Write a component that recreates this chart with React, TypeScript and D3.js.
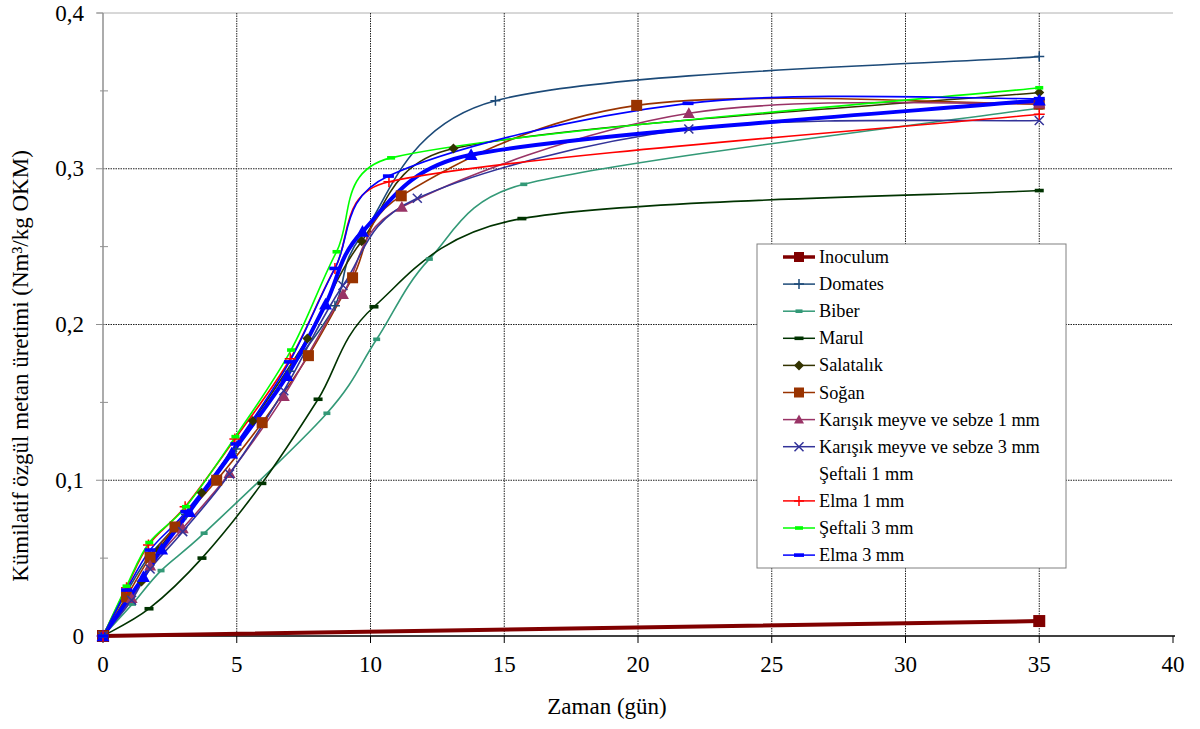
import React from 'react';
import * as d3 from 'd3';

// ---------- data ----------
const xTicks = [0, 5, 10, 15, 20, 25, 30, 35, 40];
const yTicks = [0, 0.1, 0.2, 0.3, 0.4];
const yTickLabels = ['0', '0,1', '0,2', '0,3', '0,4'];
const yMinorTicks = [0.05, 0.15, 0.25, 0.35];

const inoculum: number[][] = [[0, 0], [35, 0.0096]];
const domates: number[][] = [[0, 0], [0.88, 0.028], [1.76, 0.052], [3.1, 0.078], [4.97, 0.12], [6.97, 0.17], [8.67, 0.212], [9.67, 0.257], [14.67, 0.3437], [35, 0.372]];
const biber: number[][] = [[0, 0], [1.1, 0.0205], [2.17, 0.042], [3.78, 0.066], [8.37, 0.143], [10.23, 0.1905], [12.2, 0.242], [15.73, 0.29], [35, 0.339]];
const marul: number[][] = [[0, 0], [1.72, 0.0175], [3.7, 0.05], [5.94, 0.098], [8.04, 0.152], [10.13, 0.2114], [15.66, 0.268], [35, 0.286]];
const salatalik: number[][] = [[0, 0], [1.44, 0.035], [2.07, 0.055], [3.69, 0.092], [5.6, 0.138], [7.64, 0.191], [9.67, 0.2535], [13.1, 0.313], [35, 0.349]];
const sogan: number[][] = [[0, 0], [0.88, 0.0252], [1.76, 0.0505], [2.69, 0.07], [4.25, 0.1], [5.95, 0.137], [7.68, 0.18], [9.33, 0.23], [11.15, 0.2826], [19.95, 0.3407], [35, 0.3415]];
const karisik1: number[][] = [[0, 0], [1.07, 0.0242], [1.76, 0.0452], [2.98, 0.069], [4.73, 0.1045], [6.76, 0.154], [8.97, 0.2195], [11.17, 0.2754], [21.9, 0.3356], [35, 0.342]];
const karisik3: number[][] = [[0, 0], [1.07, 0.023], [1.76, 0.043], [2.98, 0.067], [4.73, 0.104], [6.76, 0.1575], [8.97, 0.225], [11.75, 0.281], [21.9, 0.3255], [35, 0.331]];
const seftali1: number[][] = [[0, 0], [1.51, 0.038], [2.19, 0.0557], [3.23, 0.0798], [4.81, 0.1173], [6.88, 0.167], [8.32, 0.213], [9.7, 0.2597], [13.76, 0.309], [35, 0.344]];
const elma1: number[][] = [[0, 0], [0.88, 0.031], [1.7, 0.0584], [3.07, 0.083], [4.93, 0.1265], [7.0, 0.178], [8.67, 0.236], [10.69, 0.2917], [35, 0.335]];
const seftali3: number[][] = [[0, 0], [0.88, 0.032], [1.73, 0.06], [3.1, 0.083], [4.95, 0.128], [7.03, 0.1836], [8.73, 0.2467], [10.77, 0.307], [35, 0.352]];
const elma3: number[][] = [[0, 0], [0.88, 0.0295], [1.76, 0.0552], [3.1, 0.0798], [4.97, 0.1233], [6.97, 0.176], [8.67, 0.236], [10.67, 0.2953], [21.87, 0.342], [35, 0.345]];

type Marker = 'square' | 'plus' | 'dash' | 'diamond' | 'triangle' | 'x' | 'none';
interface Series { name: string; data: number[][]; color: string; width: number; marker: Marker; size: number; legendMarker?: boolean; }

const series: Series[] = [
  { name: 'Inoculum', data: inoculum, color: '#800000', width: 4, marker: 'square', size: 12 },
  { name: 'Domates', data: domates, color: '#1c4a78', width: 1.6, marker: 'plus', size: 10 },
  { name: 'Biber', data: biber, color: '#339977', width: 1.6, marker: 'dash', size: 7 },
  { name: 'Marul', data: marul, color: '#003300', width: 1.6, marker: 'dash', size: 9 },
  { name: 'Salatalık', data: salatalik, color: '#333300', width: 1.6, marker: 'diamond', size: 10 },
  { name: 'Soğan', data: sogan, color: '#993300', width: 1.6, marker: 'square', size: 11 },
  { name: 'Karışık meyve ve sebze 1 mm', data: karisik1, color: '#993366', width: 1.6, marker: 'triangle', size: 12 },
  { name: 'Karışık meyve ve sebze 3 mm', data: karisik3, color: '#333399', width: 1.6, marker: 'x', size: 9 },
  { name: 'Şeftali 1 mm', data: seftali1, color: '#0000ff', width: 4, marker: 'triangle', size: 13, legendMarker: false },
  { name: 'Elma 1 mm', data: elma1, color: '#ff0000', width: 1.6, marker: 'plus', size: 11 },
  { name: 'Şeftali 3 mm', data: seftali3, color: '#00ff00', width: 1.6, marker: 'dash', size: 8 },
  { name: 'Elma 3 mm', data: elma3, color: '#0000ff', width: 1.6, marker: 'dash', size: 11 },
];

// ---------- layout ----------
const W = 1200, H = 729;
const x = d3.scaleLinear().domain([0, 40]).range([103, 1173]);
const y = d3.scaleLinear().domain([0, 0.4]).range([636, 13]);
const FONT = 'Liberation Serif, Times New Roman, serif';

// Spreadsheet-style smoothed line: cubic Bezier segments with 1/6 tangents,
// limited to half the segment length (built on d3.path).
function smoothPath(data: number[][]): string {
  const pts = data.map(d => [x(d[0]), y(d[1])]);
  const p = d3.path();
  if (!pts.length) return '';
  p.moveTo(pts[0][0], pts[0][1]);
  const dist = (a: number[], b: number[]) => Math.hypot(b[0] - a[0], b[1] - a[1]);
  for (let i = 0; i < pts.length - 1; i++) {
    const p1 = pts[i], p2 = pts[i + 1];
    const p0 = i > 0 ? pts[i - 1] : p1;
    const p3 = i + 2 < pts.length ? pts[i + 2] : p2;
    const d12 = dist(p1, p2), d02 = dist(p0, p2), d13 = dist(p1, p3);
    const f1 = d02 / 6 < d12 / 2 ? 1 / 6 : d12 / (2 * d02);
    const f2 = d13 / 6 < d12 / 2 ? 1 / 6 : d12 / (2 * d13);
    const c1 = [p1[0] + f1 * (p2[0] - p0[0]), p1[1] + f1 * (p2[1] - p0[1])];
    const c2 = [p2[0] - f2 * (p3[0] - p1[0]), p2[1] - f2 * (p3[1] - p1[1])];
    p.bezierCurveTo(c1[0], c1[1], c2[0], c2[1], p2[0], p2[1]);
  }
  return p.toString();
}

function MarkerShape({ type, cx, cy, size, color }: { type: Marker; cx: number; cy: number; size: number; color: string }) {
  const h = size / 2;
  switch (type) {
    case 'square':
      return <rect x={cx - h} y={cy - h} width={size} height={size} fill={color} />;
    case 'plus':
      return <path d={`M${cx - h},${cy}H${cx + h}M${cx},${cy - h}V${cy + h}`} stroke={color} strokeWidth={1.5} fill="none" />;
    case 'x':
      return <path d={`M${cx - h},${cy - h}L${cx + h},${cy + h}M${cx - h},${cy + h}L${cx + h},${cy - h}`} stroke={color} strokeWidth={1.5} fill="none" />;
    case 'dash':
      return <rect x={cx - h} y={cy - 1.8} width={size} height={3.6} fill={color} />;
    case 'diamond':
      return <path d={`M${cx},${cy - h}L${cx + h},${cy}L${cx},${cy + h}L${cx - h},${cy}Z`} fill={color} />;
    case 'triangle':
      return <path d={`M${cx},${cy - h}L${cx + h},${cy + h * 0.8}L${cx - h},${cy + h * 0.8}Z`} fill={color} />;
    default:
      return null;
  }
}

const textStyle = { fontFamily: FONT };

export default function App() {
  const legendX = 757, legendY = 244, legendW = 309, legendH = 324;
  const rowY0 = 257, rowStep = 27.1;
  return (
    <svg width={W} height={H} style={{ position: 'absolute', left: 0, top: 0, background: '#fff' }}>
      {/* top border line */}
      <line x1={97} x2={1173} y1={y(0.4)} y2={y(0.4)} stroke="#b0b0b0" strokeWidth={1} />
      {/* horizontal gridlines */}
      {yTicks.filter(t => t > 0 && t < 0.4).map(t => (
        <line key={'hg' + t} x1={x(0)} x2={x(40)} y1={y(t)} y2={y(t)} stroke="#222" strokeWidth={1} strokeDasharray="1.5,1" />
      ))}
      {/* vertical gridlines */}
      {xTicks.filter(t => t > 0 && t < 40).map(t => (
        <line key={'vg' + t} x1={x(t)} x2={x(t)} y1={y(0.4)} y2={y(0)} stroke="#222" strokeWidth={1} strokeDasharray="1.5,1" />
      ))}
      {/* y axis */}
      <line x1={x(0)} x2={x(0)} y1={y(0.4)} y2={y(0)} stroke="#909090" strokeWidth={1.5} />
      {yTicks.map(t => (
        <line key={'yt' + t} x1={x(0) - 7} x2={x(0)} y1={y(t)} y2={y(t)} stroke="#909090" strokeWidth={1} />
      ))}
      {yMinorTicks.map(t => (
        <line key={'ym' + t} x1={x(0) - 3} x2={x(0) + 5} y1={y(t)} y2={y(t)} stroke="#909090" strokeWidth={1} />
      ))}
      {yTicks.map((t, i) => (
        <text key={'yl' + t} x={84} y={y(t) + 7.5} textAnchor="end" fontSize={23} fill="#000" style={textStyle}>{yTickLabels[i]}</text>
      ))}
      {/* x axis */}
      <line x1={x(0)} x2={x(40) + 2} y1={y(0)} y2={y(0)} stroke="#000" strokeWidth={1.3} />
      {xTicks.map(t => (
        <line key={'xt' + t} x1={x(t)} x2={x(t)} y1={y(0)} y2={y(0) + 7} stroke="#000" strokeWidth={1} />
      ))}
      {xTicks.map(t => (
        <text key={'xl' + t} x={x(t)} y={672} textAnchor="middle" fontSize={23} fill="#000" style={textStyle}>{String(t)}</text>
      ))}
      <text x={607} y={714} textAnchor="middle" fontSize={23} fill="#000" style={textStyle}>Zaman (gün)</text>
      <text transform={`translate(28,${366}) rotate(-90)`} textAnchor="middle" fontSize={23} fill="#000" style={textStyle}>Kümilatif özgül metan üretimi (Nm³/kg OKM)</text>

      {/* series lines */}
      {series.map(s => (
        <path key={'l' + s.name} d={smoothPath(s.data)} fill="none" stroke={s.color} strokeWidth={s.width} strokeLinejoin="round" />
      ))}
      {/* markers */}
      {series.map(s => (
        <g key={'m' + s.name}>
          {s.data.map((d, i) => (
            <MarkerShape key={i} type={s.marker} cx={x(d[0])} cy={y(d[1])} size={s.size} color={s.color} />
          ))}
        </g>
      ))}

      {/* legend */}
      <rect x={legendX} y={legendY} width={legendW} height={legendH} fill="#fff" stroke="#808080" strokeWidth={1} />
      {series.map((s, i) => {
        const cy = rowY0 + i * rowStep;
        const show = s.legendMarker !== false;
        return (
          <g key={'lg' + s.name}>
            {show && <line x1={783} x2={815} y1={cy} y2={cy} stroke={s.color} strokeWidth={s.name === 'Inoculum' ? 3.5 : 1.5} />}
            {show && <MarkerShape type={s.marker} cx={799} cy={cy} size={Math.min(s.size, 10)} color={s.color} />}
            <text x={819} y={cy + 6} fontSize={18.3} fill="#000" style={textStyle}>{s.name}</text>
          </g>
        );
      })}
    </svg>
  );
}
